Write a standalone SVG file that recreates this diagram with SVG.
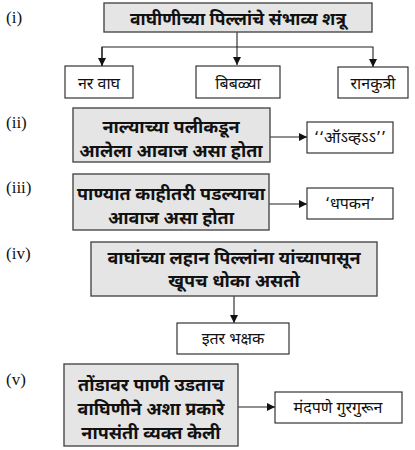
<svg xmlns="http://www.w3.org/2000/svg" width="415" height="450" viewBox="0 0 415 450">
<defs>
<style>
.g{fill:#e5e5e5;stroke:#4a4a4a;stroke-width:1.4}
.w{fill:#fff;stroke:#222;stroke-width:1.1}
.b{font-family:"Noto Sans Devanagari","Lohit Devanagari","Noto Sans",sans-serif;font-weight:bold;font-size:18px;fill:#111;text-anchor:middle}
.t{font-size:17.5px}
.n{font-family:"Noto Sans Devanagari","Lohit Devanagari","Noto Sans",sans-serif;font-size:16px;fill:#111;text-anchor:middle}
.l{font-family:"Liberation Serif","DejaVu Serif",serif;font-size:17px;fill:#111}
.c{fill:none;stroke:#222;stroke-width:1.1}
</style>
<marker id="ah" viewBox="0 0 10 10" refX="10" refY="5" markerWidth="8" markerHeight="8" markerUnits="userSpaceOnUse" orient="auto">
<path d="M0,0 L10,5 L0,10 Z" fill="#111"/>
</marker>
</defs>
<rect width="415" height="450" fill="#fff"/>

<g id="labels">
<text class="l" x="6" y="23">(i)</text>
<text class="l" x="6" y="128">(ii)</text>
<text class="l" x="6" y="193">(iii)</text>
<text class="l" x="6" y="259">(iv)</text>
<text class="l" x="6" y="385">(v)</text>
</g>

<g id="connectors">
<path class="c" d="M237,32 V65" marker-end="url(#ah)"/>
<path class="c" d="M102,66 V47 H373 V67" marker-end="url(#ah)"/>
<path class="c" d="M102,47 V66" marker-end="url(#ah)"/>
<path class="c" d="M270,137 H307" marker-end="url(#ah)"/>
<path class="c" d="M269,204 H307" marker-end="url(#ah)"/>
<path class="c" d="M234,296 V323" marker-end="url(#ah)"/>
<path class="c" d="M238,407 H275" marker-end="url(#ah)"/>
</g>

<g id="n1">
<rect class="g" x="104" y="3" width="268" height="29"/>
<text class="b t" x="238" y="25">वाघीणीच्या पिल्लांचे संभाव्य शत्रू</text>
</g>
<g id="n1a">
<rect class="w" x="65" y="66" width="68" height="32"/>
<text class="n" x="99" y="89">नर वाघ</text>
</g>
<g id="n1b">
<rect class="w" x="196" y="66" width="84" height="32"/>
<text class="n" x="238" y="89">बिबळ्या</text>
</g>
<g id="n1c">
<rect class="w" x="338" y="67" width="70" height="31"/>
<text class="n" x="373" y="89">रानकुत्री</text>
</g>

<g id="n2">
<rect class="g" x="73" y="108" width="197" height="54"/>
<text class="b" x="171" y="133">नाल्याच्या पलीकडून</text>
<text class="b" x="171" y="157">आलेला आवाज असा होता</text>
</g>
<g id="n2a">
<rect class="w" x="307" y="122" width="86" height="31"/>
<text class="n" x="350" y="143">‘‘ऑऽव्हऽऽ’’</text>
</g>

<g id="n3">
<rect class="g" x="73" y="174" width="196" height="56"/>
<text class="b" x="171" y="200">पाण्यात काहीतरी पडल्याचा</text>
<text class="b" x="171" y="224">आवाज असा होता</text>
</g>
<g id="n3a">
<rect class="w" x="307" y="188" width="86" height="31"/>
<text class="n" x="350" y="209">‘धपकन’</text>
</g>

<g id="n4">
<rect class="g" x="91" y="242" width="286" height="54"/>
<text class="b" x="234" y="264">वाघांच्या लहान पिल्लांना यांच्यापासून</text>
<text class="b" x="234" y="287">खूपच धोका असतो</text>
</g>
<g id="n4a">
<rect class="w" x="177" y="323" width="112" height="31"/>
<text class="n" x="233" y="344">इतर भक्षक</text>
</g>

<g id="n5">
<rect class="g" x="64" y="364" width="174" height="82"/>
<text class="b" x="151" y="391">तोंडावर पाणी उडताच</text>
<text class="b" x="151" y="415">वाघिणीने अशा प्रकारे</text>
<text class="b" x="151" y="439">नापसंती व्यक्त केली</text>
</g>
<g id="n5a">
<rect class="w" x="275" y="392" width="127" height="31"/>
<text class="n" x="338" y="413">मंदपणे गुरगुरून</text>
</g>
</svg>
